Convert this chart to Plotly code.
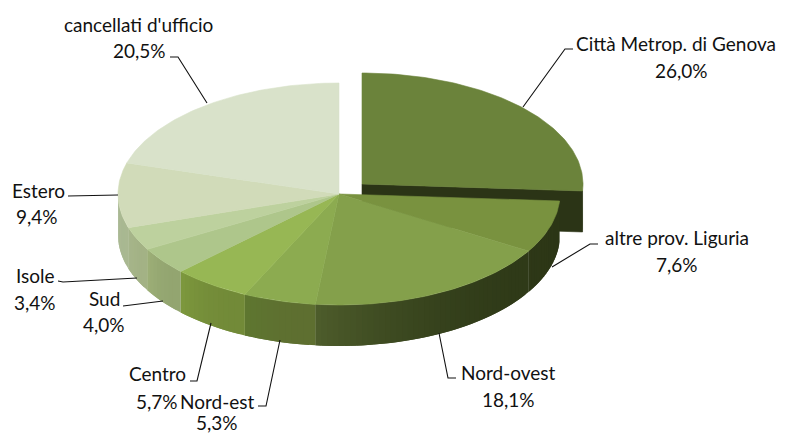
import math
import plotly.graph_objects as go

# ---- data ----
categories = ["Città Metrop. di Genova", "altre prov. Liguria", "Nord-ovest", "Nord-est",
              "Centro", "Sud", "Isole", "Estero", "cancellati d'ufficio"]
shares = [26.0, 7.6, 18.1, 5.3, 5.7, 4.0, 3.4, 9.4, 20.5]
share_labels = ["26,0%", "7,6%", "18,1%", "5,3%", "5,7%", "4,0%", "3,4%", "9,4%", "20,5%"]

# ---- styles ----
top_colors = ["#6b833b", "#79923f", "#84a04b", "#8cab50", "#97b754",
              "#aec68b", "#bdd19e", "#d1dbb9", "#d9e2ca"]
# wall colour at the right end and the left end of each slice
wall_colors = [("#2b3416", "#2b3416"), ("#2c3616", "#2e3817"), ("#2f3a18", "#4f5e2c"),
               ("#5e6f30", "#5e7830"), ("#728a38", "#7f9b3e"), ("#93a570", "#a0b27a"),
               ("#a3b285", "#a8b78e"), ("#a9b891", "#adbc99"), ("#adbc99", "#adbc99")]

# ---- geometry (pixels of the 789x435 canvas) ----
CX, CY, RX, RY, DEPTH = 339.0, 194.0, 221.0, 111.0, 41.0
EXPLODE_DX, EXPLODE_DY = 23.0, -10.0

# label text: (x, y of name line), (x, y of value line)
label_pos = [((676, 43), (681, 70)), ((677, 237), (677, 264)), ((508, 372), (508, 399)),
             ((217, 401), (217, 422)), ((157, 373), (157, 401)), ((104, 298), (104, 324)),
             ((35, 275), (35, 302)), ((38, 190), (37, 216)), ((138, 24), (139, 50))]
leaders = [[(523, 107), (565, 49), (573, 49)], [(552, 267), (590, 244), (598, 244)],
           [(439, 333), (448, 378), (456, 378)], [(280, 340), (266, 406), (258, 406)],
           [(211, 323), (197, 381), (190, 381)], [(163, 301), (128, 306), (123, 306)],
           [(137, 278), (63, 282), (58, 281)], [(118, 195), (75, 196), (68, 196)],
           [(207, 103), (178, 57), (170, 57)]]


def pt(theta, cx, cy, dz=0.0):
    r = math.radians(theta)
    return cx + RX * math.sin(r), cy - RY * math.cos(r) + dz


def arc(t1, t2, cx, cy, dz=0.0, step=1.0):
    n = max(2, int(abs(t2 - t1) / step) + 1)
    return [pt(t1 + (t2 - t1) * i / n, cx, cy, dz) for i in range(n + 1)]


def mix(c1, c2, f):
    a = [int(c1[i:i + 2], 16) for i in (1, 3, 5)]
    b = [int(c2[i:i + 2], 16) for i in (1, 3, 5)]
    return "#%02x%02x%02x" % tuple(round(x + (y - x) * f) for x, y in zip(a, b))


fig = go.Figure()


def poly(points, color, name, lw=0.6):
    xs = [p[0] for p in points] + [points[0][0]]
    ys = [p[1] for p in points] + [points[0][1]]
    fig.add_trace(go.Scatter(x=xs, y=ys, mode="lines", fill="toself", fillcolor=color,
                             line=dict(color=color, width=lw), name=name, hoverinfo="skip",
                             showlegend=False))


def wall(t1, t2, c1, c2, cx, cy, name):
    """Side of a slice, as overlapping strips, each covering the previous seam."""
    lo, hi = max(t1, 90.0), min(t2, 270.0)
    if hi <= lo:
        return
    n = max(1, int((hi - lo) / 1.5))
    for i in reversed(range(n)):
        a = lo + (hi - lo) * i / n
        b = min(hi, lo + (hi - lo) * (i + 2) / n)
        f = ((i + 0.5) / n) ** 2
        poly(arc(a, b, cx, cy) + arc(b, a, cx, cy, DEPTH), mix(c1, c2, f), name, lw=0)


# angles
total = sum(shares)
edges = [0.0]
for v in shares:
    edges.append(edges[-1] + v / total * 360.0)

# exploded slice (first): walls then top
ex, ey = CX + EXPLODE_DX, CY + EXPLODE_DY
end = pt(edges[1], ex, ey)
poly([(ex, ey), end, (end[0], end[1] + DEPTH), (ex, ey + DEPTH)], wall_colors[0][0], categories[0])
wall(edges[0], edges[1], wall_colors[0][0], wall_colors[0][1], ex, ey, categories[0])
poly([(ex, ey)] + arc(edges[0], edges[1], ex, ey), top_colors[0], categories[0])

# rest of the pie: walls, then tops
for i in range(1, len(shares)):
    wall(edges[i], edges[i + 1], wall_colors[i][0], wall_colors[i][1], CX, CY, categories[i])
for i in range(1, len(shares)):
    poly([(CX, CY)] + arc(edges[i], edges[i + 1], CX, CY), top_colors[i], categories[i])

# leader lines
for i, pts in enumerate(leaders):
    fig.add_trace(go.Scatter(x=[p[0] for p in pts], y=[p[1] for p in pts], mode="lines",
                             line=dict(color="#111111", width=1.1), hoverinfo="skip",
                             showlegend=False))

# labels
for name, val, (p1, p2) in zip(categories, share_labels, label_pos):
    for txt, p in ((name, p1), (val, p2)):
        fig.add_annotation(x=p[0], y=p[1], text=txt, showarrow=False, xanchor="center",
                           yanchor="middle", font=dict(family="Lato, Carlito, sans-serif",
                                                       size=19, color="#111111"))

fig.update_layout(width=789, height=435, margin=dict(l=0, r=0, t=0, b=0),
                  paper_bgcolor="white", plot_bgcolor="white", showlegend=False,
                  xaxis=dict(range=[0, 789], visible=False, fixedrange=True),
                  yaxis=dict(range=[435, 0], visible=False, fixedrange=True))
fig.write_html("out.html", config=dict(displayModeBar=False),
               post_script="document.body.style.margin='0';")
